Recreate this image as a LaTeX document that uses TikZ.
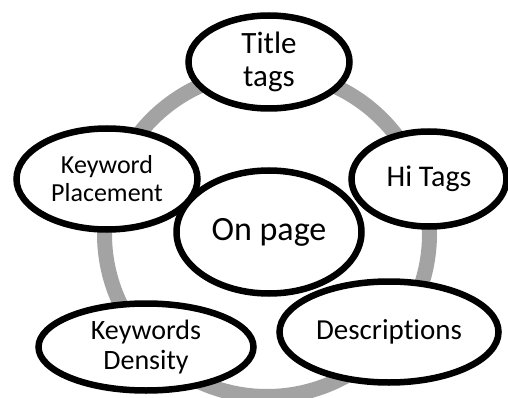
\documentclass[tikz,border=0pt]{standalone}
\usepackage{fontspec}
\setmainfont[Ligatures=NoCommon]{Carlito}
\usetikzlibrary{shapes.geometric,shadows}
\definecolor{ringgray}{HTML}{A3A3A3}
\begin{document}
\begin{tikzpicture}[x=1pt,y=-1pt,
  bubble/.style={ellipse, draw=black, line width=6.5pt, fill=white,
    inner sep=0pt, align=center,
    drop shadow={opacity=0.2, shadow xshift=2.5pt, shadow yshift=-2.5pt}},
  fs/.style 2 args={font=\fontsize{#1}{#2}\selectfont},
]
\useasboundingbox (0,0) rectangle (508,398);

% grey ring behind the bubbles
\coordinate (hub) at (267,234);
\draw[line width=15pt, ringgray] (hub) circle (162.5pt);

% outer bubbles and the central one
\node[bubble, fs={31}{33}, minimum width=161pt, minimum height=93pt]
  (title) at (269,62) {Title\\tags};
\node[bubble, fs={26}{28}, minimum width=181pt, minimum height=101pt]
  (place) at (107,179) {Keyword\\Placement};
\node[bubble, fs={30}{32}, minimum width=155pt, minimum height=95pt]
  (hitags) at (429,179) {Hi Tags};
\node[bubble, fs={34}{36}, minimum width=185pt, minimum height=123pt]
  (onpage) at (269,232) {On page};
\node[bubble, fs={29}{32}, minimum width=219pt, minimum height=101pt]
  (desc) at (389,332) {Descriptions};
\node[bubble, fs={28}{30}, minimum width=215pt, minimum height=87pt]
  (density) at (146,347) {Keywords\\Density};
\end{tikzpicture}
\end{document}
